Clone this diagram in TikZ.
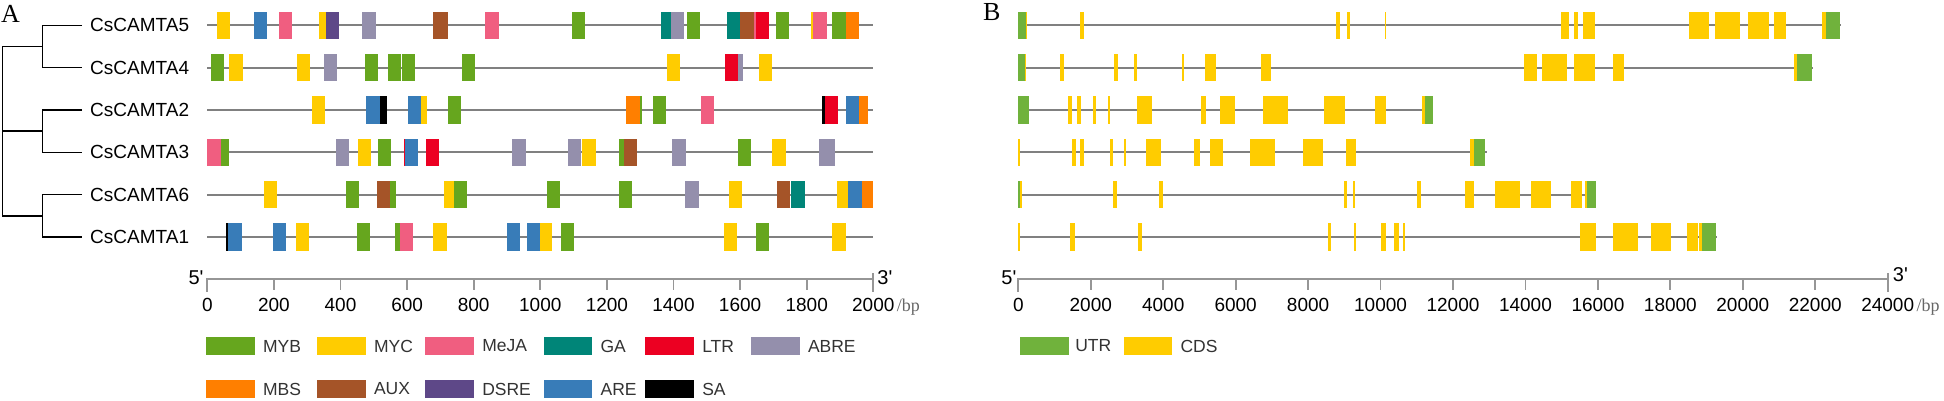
\documentclass[tikz,border=0pt]{standalone}
\usepackage{fontspec}
\setmainfont{Liberation Sans}
\newfontfamily\lserif{Liberation Serif}
\usetikzlibrary{positioning}
\definecolor{myb}{RGB}{102,166,30}
\definecolor{myc}{RGB}{255,204,0}
\definecolor{meja}{RGB}{240,94,128}
\definecolor{ga}{RGB}{0,133,120}
\definecolor{ltr}{RGB}{236,0,34}
\definecolor{abre}{RGB}{148,143,172}
\definecolor{mbs}{RGB}{255,127,0}
\definecolor{aux}{RGB}{165,84,40}
\definecolor{dsre}{RGB}{94,72,136}
\definecolor{are}{RGB}{56,124,184}
\definecolor{sa}{RGB}{0,0,0}
\definecolor{utr}{RGB}{112,178,60}
\definecolor{cds}{RGB}{255,204,0}
\definecolor{geneline}{RGB}{128,128,128}
\definecolor{axisgray}{RGB}{150,150,150}
\definecolor{legtxt}{RGB}{51,51,51}

\begin{document}
\begin{tikzpicture}[x=1pt, y=-1pt,
  gene/.style={draw=geneline, line width=2.2pt},
  axisline/.style={draw=axisgray, line width=1.8pt},
  tree/.style={draw=black, line width=1.4pt},
  genename/.style={anchor=west, inner sep=0pt, inner xsep=8pt, font=\fontsize{19}{22}\selectfont},
  ticklabel/.style={inner sep=0pt, font=\fontsize{19}{22}\selectfont},
  endlabel/.style={inner sep=0pt, font=\fontsize{20}{22}\selectfont},
  unitlabel/.style={inner sep=0pt, anchor=base west, text=gray!80!black, font=\lserif\fontsize{18}{22}\selectfont},
  panel/.style={inner sep=0pt, font=\lserif\fontsize{26}{28}\selectfont},
  legbox/.style={anchor=west, minimum width=48.7pt, minimum height=18.5pt, inner sep=0pt},
  legtext/.style={inner sep=0pt, text=legtxt, font=\fontsize{17.5}{20}\selectfont}]
  \useasboundingbox (0,0) rectangle (1944,401);

  \node[panel] (pa) at (10.5,13.5) {A};
  \node[panel] (pb) at (991.7,12.5) {B};

  % gene names and tree
  \node[genename] (camta5) at (82,25.3) {CsCAMTA5};
  \node[genename] (camta4) at (82,67.65) {CsCAMTA4};
  \node[genename] (camta2) at (82,110) {CsCAMTA2};
  \node[genename] (camta3) at (82,152.35) {CsCAMTA3};
  \node[genename] (camta6) at (82,194.7) {CsCAMTA6};
  \node[genename] (camta1) at (82,237.05) {CsCAMTA1};
  \coordinate (j54) at (42.7,46.5);
  \coordinate (j23) at (42.7,131.2);
  \coordinate (j61) at (42.7,215.9);
  \coordinate (root) at (2.7,131.2);
  \draw[tree] (camta5.west) -| (j54) |- (camta4.west);
  \draw[tree] (camta2.west) -| (j23) |- (camta3.west);
  \draw[tree] (camta6.west) -| (j61) |- (camta1.west);
  \draw[tree] (j54) -| (root) |- (j61);
  \draw[tree] (root) -- (j23);

  % A: promoter elements (bp)
  \begin{scope}[xshift=207.3pt, x=0.333pt]
    \foreach \yy in {25.3,67.65,110,152.35,194.7,237.05}
      \draw[gene] (0,\yy) -- (2000,\yy);
    \foreach \s/\e/\col in {30/68/myc, 140/178/are, 214/254/meja, 336/356/myc, 356/396/dsre, 466/506/abre, 678/722/aux, 835/877/meja, 1094/1134/myb, 1362/1391/ga, 1391/1433/abre, 1440/1480/myb, 1560/1601/ga, 1601/1643/aux, 1643/1647/meja, 1647/1686/ltr, 1707/1747/myb, 1814/1818/myc, 1818/1860/meja, 1877/1918/myb, 1918/1957/mbs}
      \fill[fill=\col] (\s,11.6) rectangle (\e,39);
    \foreach \s/\e/\col in {12/51/myb, 66/106/myc, 268/308/myc, 351/390/abre, 474/514/myb, 542/582/myb, 584/624/myb, 764/804/myb, 1381/1419/myc, 1555/1594/ltr, 1594/1609/abre, 1656/1695/myc}
      \fill[fill=\col] (\s,53.95) rectangle (\e,81.35);
    \foreach \s/\e/\col in {314/353/myc, 478/518/are, 518/540/sa, 603/643/are, 643/659/myc, 723/763/myb, 1258/1300/mbs, 1300/1304/myb, 1337/1376/myb, 1483/1522/meja, 1846/1854/sa, 1854/1893/ltr, 1917/1956/are, 1956/1985/mbs}
      \fill[fill=\col] (\s,96.3) rectangle (\e,123.7);
    \foreach \s/\e/\col in {0/40/meja, 40/65/myb, 387/426/abre, 452/491/myc, 514/553/myb, 590/594/ltr, 594/634/are, 656/695/ltr, 916/956/abre, 1082/1122/abre, 1126/1166/myc, 1237/1250/myb, 1250/1291/aux, 1397/1437/abre, 1593/1633/myb, 1697/1737/myc, 1838/1884/abre}
      \fill[fill=\col] (\s,138.65) rectangle (\e,166.05);
    \foreach \s/\e/\col in {169/208/myc, 417/456/myb, 510/550/aux, 550/567/myb, 712/740/myc, 740/779/myb, 1020/1060/myb, 1236/1276/myb, 1436/1476/abre, 1566/1606/myc, 1711/1750/aux, 1754/1794/ga, 1890/1925/myc, 1925/1965/are, 1965/1998/mbs}
      \fill[fill=\col] (\s,181) rectangle (\e,208.4);
    \foreach \s/\e/\col in {56/63/sa, 63/103/are, 197/236/are, 265/304/myc, 449/488/myb, 565/578/myb, 578/619/meja, 679/719/myc, 900/939/are, 960/999/are, 999/1034/myc, 1061/1100/myb, 1552/1592/myc, 1647/1686/myb, 1877/1917/myc}
      \fill[fill=\col] (\s,223.35) rectangle (\e,250.75);
    % scale
    \draw[axisline] (0,291.7) -- (0,279.3) -- (2000,279.3) -- (2000,291.7);
    \draw[axisline] (2000,279.3) -- (2000,273);
    \foreach \t in {0,200,...,2000} {
      \draw[axisline] (\t,279.3) -- (\t,290);
      \node[ticklabel] (ta\t) at (\t,305) {\t};
    }
    \node[endlabel] (a5) at (-34,277.5) {5\textquotesingle};
    \node[endlabel] (a3) at (2035,277.5) {3\textquotesingle};
  \end{scope}
  \node[unitlabel] (abp) at ([xshift=2pt]ta2000.base east) {/bp};

  % B: exon-intron structure (kb)
  \begin{scope}[xshift=1018.3pt, x=36.225pt]
    \foreach \len/\yy in {22.715/25.3, 21.950/67.65, 11.458/110, 12.932/152.35, 15.950/194.7, 19.283/237.05}
      \draw[gene] (0,\yy) -- (\len,\yy);
    \foreach \s/\e/\col in {0/0.213/utr, 0.213/0.249/cds, 1.704/1.814/cds, 8.772/8.883/cds, 9.067/9.150/cds, 10.125/10.152/cds, 14.993/15.196/cds, 15.343/15.462/cds, 15.600/15.923/cds, 18.518/19.079/cds, 19.236/19.926/cds, 20.156/20.718/cds, 20.873/21.196/cds, 22.182/22.292/cds, 22.292/22.687/utr}
      \fill[fill=\col] (\s,11.6) rectangle (\e,39);
    \foreach \s/\e/\col in {0/0.185/utr, 0.185/0.221/cds, 1.151/1.262/cds, 2.642/2.753/cds, 3.203/3.286/cds, 4.520/4.566/cds, 5.163/5.458/cds, 6.709/6.977/cds, 13.963/14.322/cds, 14.451/15.141/cds, 15.343/15.923/cds, 16.411/16.715/cds, 21.425/21.500/cds, 21.500/21.923/utr}
      \fill[fill=\col] (\s,53.95) rectangle (\e,81.35);
    \foreach \s/\e/\col in {0/0.304/utr, 1.372/1.491/cds, 1.621/1.731/cds, 2.063/2.154/cds, 2.477/2.523/cds, 3.268/3.691/cds, 5.036/5.183/cds, 5.578/5.983/cds, 6.765/7.438/cds, 8.441/9.029/cds, 9.849/10.144/cds, 11.146/11.238/cds, 11.238/11.450/utr}
      \fill[fill=\col] (\s,96.3) rectangle (\e,123.7);
    \foreach \s/\e/\col in {0/0.037/cds, 1.483/1.601/cds, 1.712/1.822/cds, 2.540/2.623/cds, 2.918/2.964/cds, 3.517/3.948/cds, 4.859/5.008/cds, 5.284/5.652/cds, 6.405/7.079/cds, 7.861/8.421/cds, 9.039/9.324/cds, 12.480/12.573/cds, 12.573/12.894/utr}
      \fill[fill=\col] (\s,138.65) rectangle (\e,166.05);
    \foreach \s/\e/\col in {0/0.047/utr, 0.047/0.102/cds, 2.606/2.725/cds, 3.876/3.987/cds, 8.993/9.084/cds, 9.250/9.287/cds, 11.000/11.110/cds, 12.342/12.582/cds, 13.162/13.852/cds, 14.156/14.700/cds, 15.260/15.564/cds, 15.650/15.702/cds, 15.702/15.950/utr}
      \fill[fill=\col] (\s,181) rectangle (\e,208.4);
    \foreach \s/\e/\col in {0/0.055/cds, 1.427/1.556/cds, 3.296/3.415/cds, 8.559/8.642/cds, 9.277/9.324/cds, 10.014/10.144/cds, 10.381/10.503/cds, 10.622/10.685/cds, 15.517/15.950/cds, 16.411/17.110/cds, 17.469/18.012/cds, 18.454/18.766/cds, 18.800/18.886/cds, 18.886/19.272/utr}
      \fill[fill=\col] (\s,223.35) rectangle (\e,250.75);
    % scale
    \draw[axisline] (0,291.7) -- (0,279.3) -- (24,279.3) -- (24,291.7);
    \draw[axisline] (24,279.3) -- (24,273);
    \foreach \t in {0,2,...,24} {
      \draw[axisline] (\t,279.3) -- (\t,290);
      \node[ticklabel] (tb\t) at (\t,305) {\ifnum\t=0 0\else\t000\fi};
    }
    \node[endlabel] (b5) at (-0.26,278) {5\textquotesingle};
    \node[endlabel] (b3) at (24.35,275) {3\textquotesingle};
  \end{scope}
  \node[unitlabel] (bbp) at ([xshift=2pt]tb24.base east) {/bp};

  % legends
  \node[legbox, fill=myb] (lmyb) at (205.7,346) {};
  \node[legtext, right=8pt of lmyb] (tmyb) {MYB};
  \node[legbox, fill=myc] (lmyc) at (316.7,346) {};
  \node[legtext, right=8pt of lmyc] (tmyc) {MYC};
  \node[legbox, fill=meja] (lmeja) at (425,346) {};
  \node[legtext, right=8pt of lmeja] (tmeja) {MeJA};
  \node[legbox, fill=ga] (lga) at (543.3,346) {};
  \node[legtext, right=8pt of lga] (tga) {GA};
  \node[legbox, fill=ltr] (lltr) at (645,346) {};
  \node[legtext, right=8pt of lltr] (tltr) {LTR};
  \node[legbox, fill=abre] (labre) at (750.7,346) {};
  \node[legtext, right=8pt of labre] (tabre) {ABRE};
  \node[legbox, fill=mbs] (lmbs) at (205.7,389) {};
  \node[legtext, right=8pt of lmbs] (tmbs) {MBS};
  \node[legbox, fill=aux] (laux) at (316.7,389) {};
  \node[legtext, right=8pt of laux] (taux) {AUX};
  \node[legbox, fill=dsre] (ldsre) at (425,389) {};
  \node[legtext, right=8pt of ldsre] (tdsre) {DSRE};
  \node[legbox, fill=are] (lare) at (543.3,389) {};
  \node[legtext, right=8pt of lare] (tare) {ARE};
  \node[legbox, fill=sa] (lsa) at (645,389) {};
  \node[legtext, right=8pt of lsa] (tsa) {SA};
  \node[legbox, fill=utr] (lutr) at (1020,346) {};
  \node[legtext, right=6pt of lutr] (tutr) {UTR};
  \node[legbox, fill=cds] (lcds) at (1123.3,346) {};
  \node[legtext, right=8pt of lcds] (tcds) {CDS};
\end{tikzpicture}
\end{document}
